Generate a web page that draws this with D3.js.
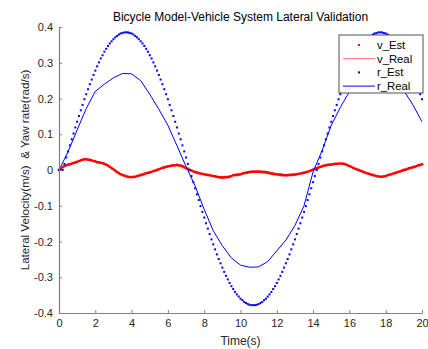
<!DOCTYPE html>
<html>
<head>
<meta charset="utf-8">
<script src="https://cdn.jsdelivr.net/npm/d3@7"></script>
<style>
  body { margin: 0; background: #fff; }
  svg { display: block; font-family: "Liberation Sans", Arial, sans-serif; }
</style>
</head>
<body>
<div id="chart"></div>
<script>
// sample step of the estimator output (s)
const estStep = 0.1;
const realStep = 0.5;

// v_Est, one value every 0.1 s from 0 to 20 s
const vEst = [
  0.000, 0.002, 0.008, 0.011, 0.013, 0.015, 0.016, 0.018, 0.019, 0.021,
  0.023, 0.025, 0.027, 0.029, 0.030, 0.030, 0.029, 0.028, 0.027, 0.025,
  0.024, 0.022, 0.021, 0.020, 0.019, 0.017, 0.015, 0.012, 0.009, 0.005,
  0.002, -0.002, -0.006, -0.009, -0.012, -0.014, -0.016, -0.018, -0.019, -0.020,
  -0.020, -0.019, -0.019, -0.017, -0.016, -0.014, -0.013, -0.011, -0.009, -0.008,
  -0.007, -0.005, -0.003, -0.002, 0.000, 0.002, 0.004, 0.006, 0.007, 0.009,
  0.010, 0.011, 0.012, 0.013, 0.013, 0.014, 0.013, 0.012, 0.011, 0.008,
  0.005, 0.003, 0.000, -0.002, -0.004, -0.006, -0.007, -0.009, -0.010, -0.011,
  -0.012, -0.013, -0.014, -0.015, -0.016, -0.017, -0.018, -0.019, -0.020, -0.021,
  -0.021, -0.021, -0.020, -0.020, -0.019, -0.017, -0.015, -0.014, -0.014, -0.013,
  -0.012, -0.010, -0.009, -0.008, -0.007, -0.006, -0.005, -0.005, -0.005, -0.005,
  -0.005, -0.005, -0.006, -0.006, -0.007, -0.008, -0.009, -0.010, -0.011, -0.012,
  -0.012, -0.013, -0.014, -0.014, -0.015, -0.015, -0.015, -0.014, -0.014, -0.013,
  -0.013, -0.012, -0.011, -0.010, -0.009, -0.008, -0.006, -0.005, -0.003, -0.001,
  0.001, 0.003, 0.005, 0.007, 0.009, 0.010, 0.012, 0.013, 0.014, 0.015,
  0.015, 0.016, 0.017, 0.017, 0.018, 0.018, 0.018, 0.017, 0.016, 0.013,
  0.011, 0.009, 0.006, 0.004, 0.002, 0.000, -0.002, -0.004, -0.006, -0.008,
  -0.010, -0.011, -0.013, -0.014, -0.016, -0.017, -0.018, -0.019, -0.019, -0.018,
  -0.017, -0.015, -0.013, -0.012, -0.010, -0.009, -0.007, -0.005, -0.004, -0.002,
  0.000, 0.001, 0.003, 0.005, 0.006, 0.008, 0.009, 0.011, 0.013, 0.014,
  0.016
];

// v_Real, one value every 0.5 s
const vReal = [
  0.000, 0.015, 0.023, 0.030, 0.024, 0.017, 0.002, -0.014, -0.020, -0.014,
  -0.007, 0.002, 0.010, 0.013, 0.005, -0.006, -0.012, -0.017, -0.019, -0.016,
  -0.010, -0.003, -0.002, -0.004, -0.010, -0.013, -0.012, -0.008, -0.001, 0.010,
  0.015, 0.018, 0.011, 0.000, -0.010, -0.017, -0.018, -0.009, -0.002, 0.006,
  0.016
];

// r_Est, one value every 0.1 s
const rEst = [
  0.000, 0.000, 0.000, 0.017, 0.035, 0.052, 0.069, 0.086, 0.102, 0.119,
  0.135, 0.151, 0.167, 0.182, 0.198, 0.212, 0.226, 0.240, 0.253, 0.266,
  0.278, 0.290, 0.301, 0.312, 0.321, 0.331, 0.339, 0.347, 0.354, 0.360,
  0.366, 0.371, 0.375, 0.379, 0.382, 0.383, 0.385, 0.385, 0.385, 0.383,
  0.382, 0.379, 0.375, 0.371, 0.366, 0.360, 0.354, 0.347, 0.339, 0.331,
  0.321, 0.312, 0.301, 0.290, 0.278, 0.266, 0.253, 0.240, 0.226, 0.212,
  0.198, 0.182, 0.167, 0.151, 0.135, 0.119, 0.102, 0.086, 0.069, 0.052,
  0.035, 0.017, 0.000, -0.017, -0.034, -0.051, -0.068, -0.084, -0.101, -0.117,
  -0.133, -0.149, -0.164, -0.179, -0.194, -0.208, -0.222, -0.236, -0.249, -0.261,
  -0.273, -0.285, -0.296, -0.306, -0.316, -0.325, -0.333, -0.341, -0.348, -0.354,
  -0.360, -0.364, -0.369, -0.372, -0.375, -0.377, -0.378, -0.378, -0.378, -0.377,
  -0.375, -0.372, -0.369, -0.364, -0.360, -0.354, -0.348, -0.341, -0.333, -0.325,
  -0.316, -0.306, -0.296, -0.285, -0.273, -0.261, -0.249, -0.236, -0.222, -0.208,
  -0.194, -0.179, -0.164, -0.149, -0.133, -0.117, -0.101, -0.084, -0.068, -0.051,
  -0.034, -0.017, 0.000, 0.017, 0.035, 0.052, 0.069, 0.086, 0.102, 0.119,
  0.135, 0.151, 0.167, 0.182, 0.198, 0.212, 0.226, 0.240, 0.253, 0.266,
  0.278, 0.290, 0.301, 0.312, 0.321, 0.331, 0.339, 0.347, 0.354, 0.360,
  0.366, 0.371, 0.375, 0.379, 0.382, 0.383, 0.385, 0.385, 0.385, 0.383,
  0.382, 0.379, 0.375, 0.371, 0.366, 0.360, 0.354, 0.347, 0.339, 0.331,
  0.321, 0.312, 0.301, 0.290, 0.278, 0.266, 0.253, 0.240, 0.226, 0.212,
  0.198
];

// r_Real, one value every 0.5 s
const rReal = [
  0.000, 0.051, 0.112, 0.172, 0.220, 0.240, 0.258, 0.270, 0.269, 0.250,
  0.212, 0.170, 0.125, 0.068, 0.010, -0.045, -0.110, -0.170, -0.212, -0.246,
  -0.266, -0.272, -0.271, -0.256, -0.226, -0.196, -0.155, -0.100, -0.005, 0.055,
  0.125, 0.175, 0.219, 0.245, 0.262, 0.270, 0.268, 0.250, 0.222, 0.182,
  0.135
];

const xTicks = [0, 2, 4, 6, 8, 10, 12, 14, 16, 18, 20];
const yTicks = [-0.4, -0.3, -0.2, -0.1, 0, 0.1, 0.2, 0.3, 0.4];
const seriesNames = ["v_Est", "v_Real", "r_Est", "r_Real"];

const width = 428, height = 349;
const margin = { left: 59, right: 6, top: 27, bottom: 36 };

const svg = d3.select("#chart").append("svg")
    .attr("width", width)
    .attr("height", height);

const x = d3.scaleLinear().domain([0, 20]).range([margin.left, width - margin.right]);
const y = d3.scaleLinear().domain([-0.4, 0.4]).range([height - margin.bottom, margin.top]);

const toPoints = (arr, step) => arr.map((v, i) => ({ t: i * step, v: v }));

const line = d3.line().x(d => x(d.t)).y(d => y(d.v));

// v_Est dots
svg.append("g")
  .selectAll("circle")
  .data(toPoints(vEst, estStep))
  .join("circle")
    .attr("cx", d => x(d.t))
    .attr("cy", d => y(d.v))
    .attr("r", 1.4)
    .attr("fill", "#ff0000");

// v_Real line
svg.append("path")
    .datum(toPoints(vReal, realStep))
    .attr("fill", "none")
    .attr("stroke", "#ff0000")
    .attr("stroke-opacity", 0.6)
    .attr("stroke-width", 1)
    .attr("d", line);

// r_Est dots
svg.append("g")
  .selectAll("rect")
  .data(toPoints(rEst, estStep))
  .join("rect")
    .attr("x", d => x(d.t) - 1)
    .attr("y", d => y(d.v) - 1)
    .attr("width", 2)
    .attr("height", 2)
    .attr("fill", "#0000ff");

// r_Real line
svg.append("path")
    .datum(toPoints(rReal, realStep))
    .attr("fill", "none")
    .attr("stroke", "#0000ff")
    .attr("stroke-width", 1)
    .attr("d", line);

// axes, ticks point inward like matlab
const xAxis = svg.append("g")
    .attr("transform", `translate(0,${height - margin.bottom})`)
    .call(d3.axisBottom(x).tickValues(xTicks).tickSizeInner(-3).tickSizeOuter(0).tickPadding(6)
      .tickFormat(d => String(d)));

const yAxis = svg.append("g")
    .attr("transform", `translate(${margin.left},0)`)
    .call(d3.axisLeft(y).tickValues(yTicks).tickSizeInner(-3).tickSizeOuter(0).tickPadding(6)
      .tickFormat(d => String(Math.round(d * 10) / 10)));

[xAxis, yAxis].forEach(g => {
  g.select(".domain").attr("stroke", "#808080").attr("stroke-width", 1.2);
  g.selectAll(".tick line").attr("stroke", "#808080");
  g.selectAll(".tick text")
    .attr("fill", "#262626")
    .style("font-size", "11px")
    .style("font-family", "'Liberation Sans', Arial, sans-serif");
});

// title and labels
svg.append("text")
    .attr("x", (margin.left + width - margin.right) / 2)
    .attr("y", 21)
    .attr("text-anchor", "middle")
    .attr("fill", "#000")
    .style("font-size", "12px")
    .text("Bicycle Model-Vehicle System Lateral Validation");

svg.append("text")
    .attr("x", (margin.left + width - margin.right) / 2)
    .attr("y", 345)
    .attr("text-anchor", "middle")
    .attr("fill", "#262626")
    .style("font-size", "12px")
    .text("Time(s)");

svg.append("text")
    .attr("transform", `translate(29,${(margin.top + height - margin.bottom) / 2}) rotate(-90)`)
    .attr("text-anchor", "middle")
    .attr("fill", "#262626")
    .attr("xml:space", "preserve")
    .style("font-size", "11.6px")
    .style("white-space", "pre")
    .text("Lateral Velocity(m/s)  & Yaw rate(rad/s)");

// legend
const lg = svg.append("g").attr("transform", "translate(339,35)");
lg.append("rect")
    .attr("width", 84)
    .attr("height", 58)
    .attr("fill", "#fff")
    .attr("stroke", "#262626")
    .attr("stroke-width", 0.8);

const legendRows = lg.selectAll("g.row")
  .data(seriesNames)
  .join("g")
    .attr("class", "row")
    .attr("transform", (d, i) => `translate(0,${10 + i * 13.7})`);

legendRows.each(function(d, i) {
  const row = d3.select(this);
  const color = i < 2 ? "#ff0000" : "#0000ff";
  if (i % 2 === 0) {
    row.append("rect").attr("x", 19).attr("y", -1).attr("width", 2).attr("height", 2).attr("fill", color);
  } else {
    row.append("line").attr("x1", 4).attr("x2", 36).attr("y1", 0).attr("y2", 0)
      .attr("stroke", color).attr("stroke-width", 1).attr("stroke-opacity", i === 1 ? 0.6 : 1);
  }
  row.append("text")
    .attr("x", 38)
    .attr("y", 0)
    .attr("dy", "0.35em")
    .attr("fill", "#000")
    .style("font-size", "11.3px")
    .text(d);
});
</script>
</body>
</html>
